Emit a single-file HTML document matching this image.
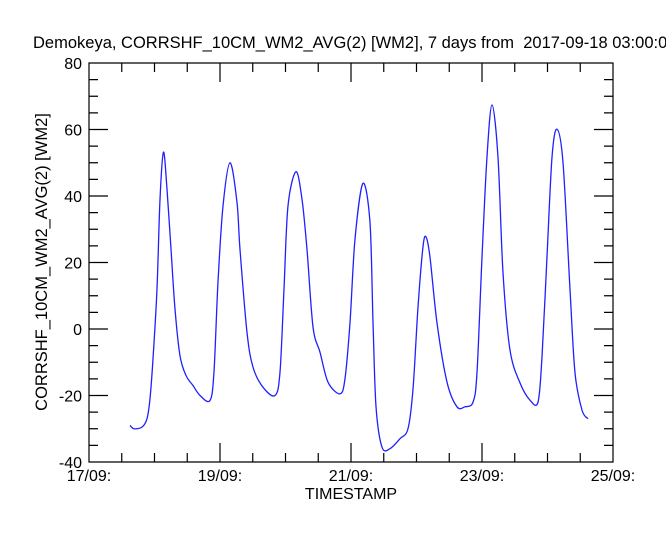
<!DOCTYPE html>
<html><head><meta charset="utf-8"><style>
body{margin:0;background:#fff;width:666px;height:533px;overflow:hidden}
svg{font-family:"Liberation Sans",sans-serif;font-size:16px}
</style></head><body>
<svg id="chart" width="666" height="533" xmlns="http://www.w3.org/2000/svg">
<text x="33" y="48" fill="#000" style="font-size:16.5px">Demokeya, CORRSHF_10CM_WM2_AVG(2) [WM2], 7 days from &#160;2017-09-18 03:00:00</text>
<text transform="translate(47,262) rotate(-90)" text-anchor="middle" style="font-size:16.5px">CORRSHF_10CM_WM2_AVG(2) [WM2]</text>
<text x="351" y="499" text-anchor="middle">TIMESTAMP</text>
<g id="axes"></g>
<path id="series" fill="none" stroke="#2020ff" stroke-width="1.3"/>
</svg>
<script>
const days=[0.626,0.687,0.809,0.885,0.931,0.977,1.038,1.084,1.137,1.191,1.252,1.313,1.389,1.481,1.588,1.695,1.847,1.908,1.969,2.046,2.153,2.26,2.305,2.412,2.504,2.656,2.84,2.916,2.977,3.038,3.16,3.252,3.328,3.42,3.527,3.649,3.832,3.908,3.985,4.061,4.183,4.29,4.336,4.382,4.473,4.595,4.748,4.87,4.947,5.023,5.099,5.145,5.206,5.313,5.466,5.618,5.74,5.863,5.924,6.0,6.076,6.153,6.244,6.321,6.427,6.58,6.733,6.855,6.916,6.992,7.069,7.145,7.237,7.344,7.42,7.527,7.618];
const values=[-29,-30,-29.5,-27,-21,-9,12,39,53.2,42,24,6,-8,-14,-17,-20,-21.5,-13,14,37,50,38,24,-1,-11.5,-17.5,-20,-13,12,37,47.3,39,24,0.6,-7,-16,-19.5,-15,2,27,43.8,32,2,-23.4,-35.5,-36,-33,-30,-18,6.6,24.7,27.7,21.6,1.8,-16,-23.4,-23.4,-22,-13,21.6,51.7,67.4,51.7,16.8,-6.3,-16.2,-21.4,-22,-8.4,21.6,51.7,60.1,50,11.7,-13.2,-24.4,-27];
const yTicks=[-40,-20,0,20,40,60,80];
const xTickLabels=["17/09:","19/09:","21/09:","23/09:","25/09:"];
const xTickDays=[0,2,4,6,8];
const L=89,R=613,T=63,B=462,xMin=0,xMax=8,yMin=-40,yMax=80;
const sx=d=>L+(d-xMin)/(xMax-xMin)*(R-L);
const sy=v=>B-(v-yMin)/(yMax-yMin)*(B-T);
const NS="http://www.w3.org/2000/svg";
const ax=document.getElementById('axes');
let p=`M${L},${T}H${R}V${B}H${L}Z`;
for(let v=yMin;v<=yMax;v+=5){const y=sy(v);const len=(v%20===0)?19:9;p+=`M${L},${y}h${len}M${R},${y}h${-len}`;}
for(let d=xMin;d<=xMax;d+=0.5){const x=sx(d);const len=(d%2===0)?19:9;p+=`M${x},${B}v${-len}M${x},${T}v${len}`;}
const ap=document.createElementNS(NS,'path');


ap.setAttribute('d',p);ap.setAttribute('stroke','#000');ap.setAttribute('fill','none');ap.setAttribute('stroke-width','1.2');
ax.appendChild(ap);
yTicks.forEach(v=>{const t=document.createElementNS(NS,'text');


t.setAttribute('x',82);t.setAttribute('y',sy(v)+6);t.setAttribute('text-anchor','end');t.textContent=v;ax.appendChild(t);});
xTickDays.forEach((d,i)=>{const t=document.createElementNS(NS,'text');


t.setAttribute('x',sx(d));t.setAttribute('y',481);t.setAttribute('text-anchor','middle');t.textContent=xTickLabels[i];ax.appendChild(t);});
const pts=days.map((d,i)=>[sx(d),sy(values[i])]);
let d=`M${pts[0][0]},${pts[0][1]}`;
for(let i=0;i<pts.length-1;i++){const p0=pts[Math.max(0,i-1)],p1=pts[i],p2=pts[i+1],p3=pts[Math.min(pts.length-1,i+2)];
const k=0.16;d+=`C${p1[0]+(p2[0]-p0[0])*k},${p1[1]+(p2[1]-p0[1])*k} ${p2[0]-(p3[0]-p1[0])*k},${p2[1]-(p3[1]-p1[1])*k} ${p2[0]},${p2[1]}`;}
document.getElementById('series').setAttribute('d',d);
</script>
</body></html>
